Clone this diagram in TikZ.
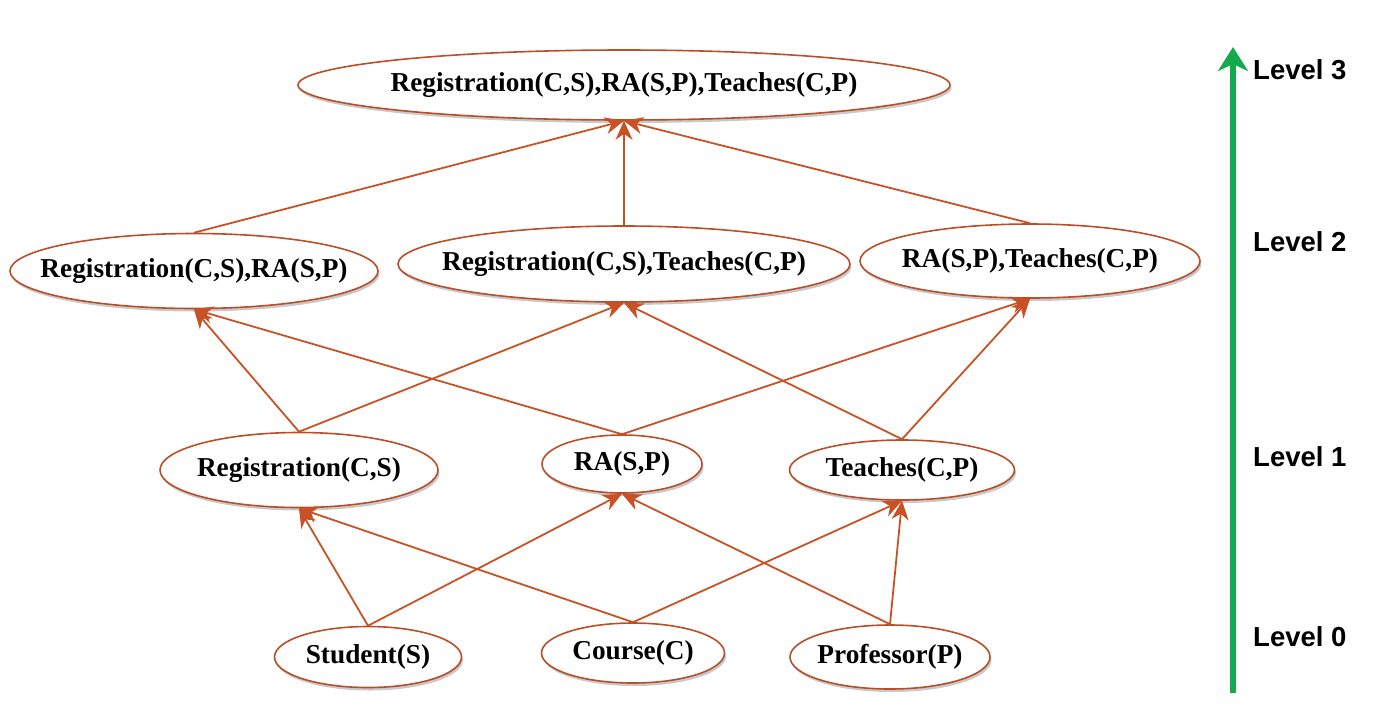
\documentclass[tikz,border=0pt]{standalone}
\usepackage{fontspec}
\newfontfamily\nodefont{Liberation Serif}
\newfontfamily\levelfont{Liberation Sans}
\usetikzlibrary{shapes.geometric,arrows.meta,shadows}
\definecolor{edgec}{RGB}{200,82,38}
\definecolor{borderc}{RGB}{185,78,40}
\definecolor{greenc}{RGB}{22,170,80}
\tikzset{
  ell/.style 2 args={ellipse, draw=borderc, line width=1.6pt, fill=white,
    minimum width=#1pt, minimum height=#2pt, inner sep=0pt,
    drop shadow={shadow xshift=1.5pt, shadow yshift=-3pt, opacity=0.3, fill=black!70}},
  txt/.style={font=\nodefont\bfseries\fontsize{27.3}{30}\selectfont, inner sep=0pt},
  lvl/.style={font=\levelfont\bfseries\fontsize{27.5}{30}\selectfont, anchor=west, inner sep=0pt},
  conn/.style={draw=edgec, line width=1.8pt, -{Stealth[length=19pt,width=17pt,inset=6pt]}},
}
\begin{document}
\begin{tikzpicture}[x=1pt,y=-1pt]
\useasboundingbox (0,0) rectangle (1375,721);
% nodes
\node[ell={652}{70}, label={[txt]center:Registration(C,S),RA(S,P),Teaches(C,P)}] (top) at (624,85) {};
\node[ell={368}{75}, label={[txt]center:Registration(C,S),RA(S,P)}] (l2a) at (194,271) {};
\node[ell={452}{76}, label={[txt]center:Registration(C,S),Teaches(C,P)}] (l2b) at (624,264) {};
\node[ell={340}{74}, label={[txt]center:RA(S,P),Teaches(C,P)}] (l2c) at (1030,261) {};
\node[ell={278}{75}, label={[txt]center:Registration(C,S)}] (reg) at (299,470) {};
\node[ell={160}{58}, label={[txt]center:RA(S,P)}] (ra) at (622,464) {};
\node[ell={225}{60}, label={[txt]center:Teaches(C,P)}] (tea) at (902,470) {};
\node[ell={187}{61}, label={[txt]center:Student(S)}] (stu) at (368,657) {};
\node[ell={183}{60}, label={[txt]center:Course(C)}] (cou) at (633,653) {};
\node[ell={200}{64}, label={[txt]center:Professor(P)}] (pro) at (890,657) {};
% connectors
\draw[conn] (stu.north) -- (reg.south);
\draw[conn] (stu.north) -- (ra.south);
\draw[conn] (cou.north) -- (reg.south);
\draw[conn] (cou.north) -- (tea.south);
\draw[conn] (pro.north) -- (ra.south);
\draw[conn] (pro.north) -- (tea.south);
\draw[conn] (reg.north) -- (l2a.south);
\draw[conn] (reg.north) -- (l2b.south);
\draw[conn] (ra.north) -- (l2a.south);
\draw[conn] (ra.north) -- (l2c.south);
\draw[conn] (tea.north) -- (l2b.south);
\draw[conn] (tea.north) -- (l2c.south);
\draw[conn] (l2a.north) -- (top.south);
\draw[conn] (l2b.north) -- (top.south);
\draw[conn] (l2c.north) -- (top.south);
% level axis
\coordinate (ax0) at (1233,693);
\coordinate (ax1) at (1233,47);
\draw[draw=greenc, line width=6pt, -{Stealth[length=24pt,width=30pt,inset=7pt]}] (ax0) -- (ax1);
\node[lvl] (lv3) at (1253,70) {Level 3};
\node[lvl] (lv2) at (1253,242) {Level 2};
\node[lvl] (lv1) at (1253,457) {Level 1};
\node[lvl] (lv0) at (1253,637) {Level 0};
\end{tikzpicture}
\end{document}
